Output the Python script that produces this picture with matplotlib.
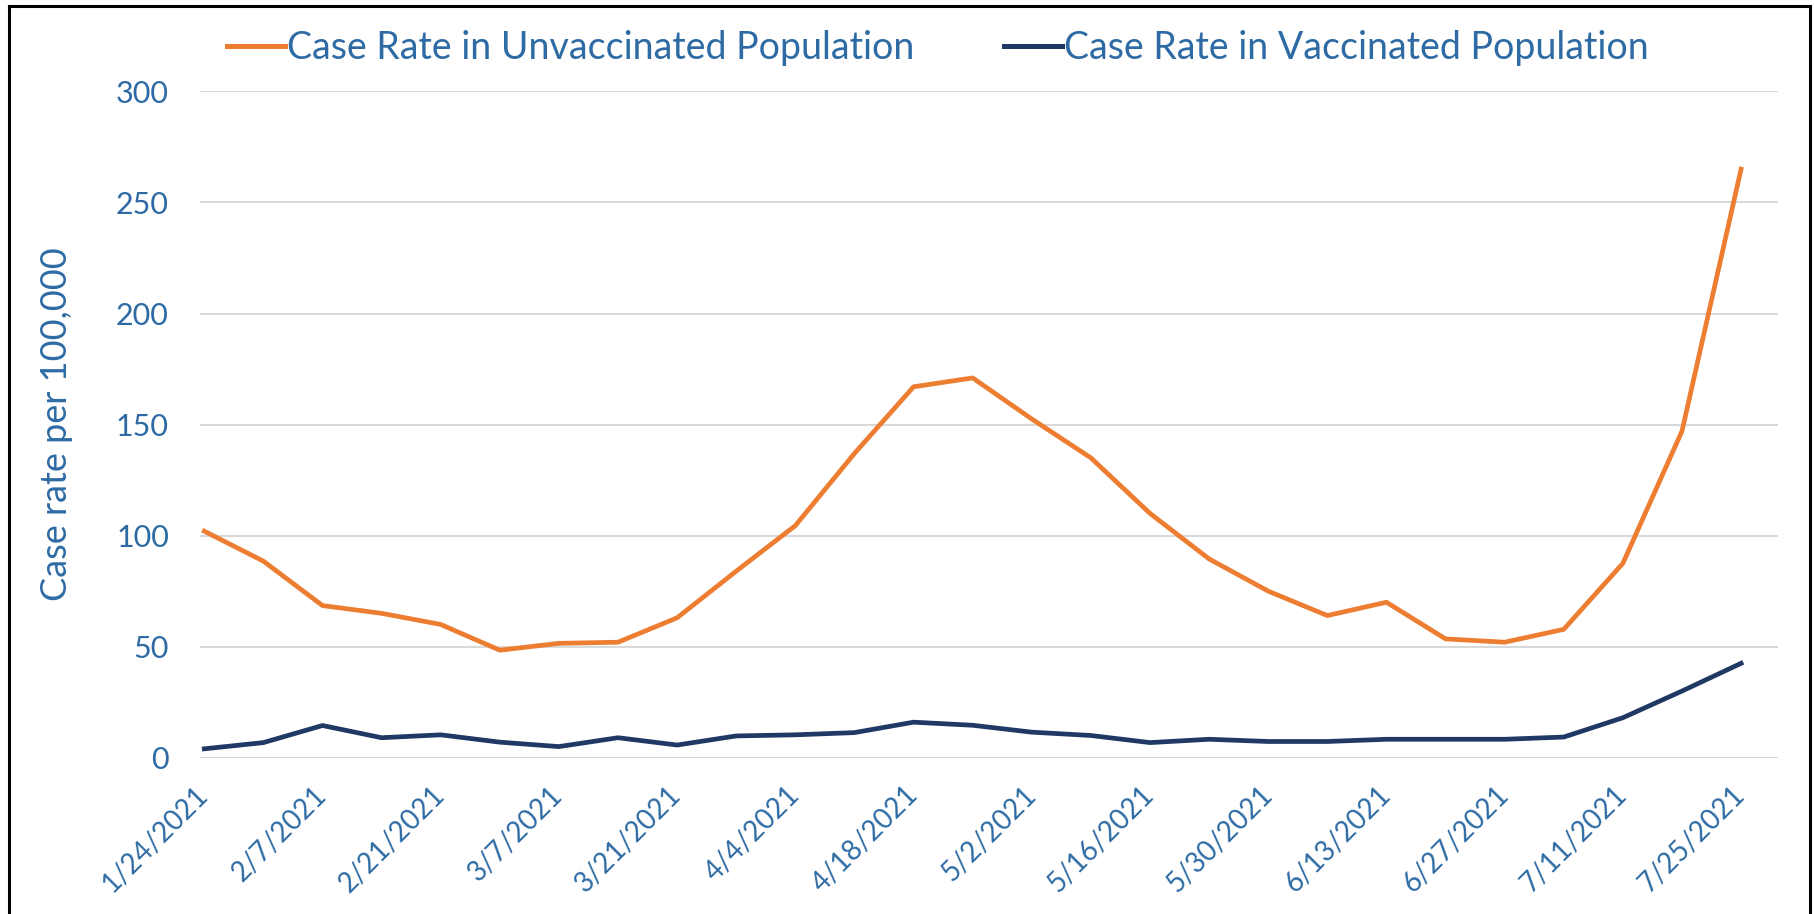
import matplotlib
matplotlib.use("Agg")
import matplotlib.pyplot as plt
from matplotlib.lines import Line2D
import numpy as np

dates = ["1/24/2021", "1/31/2021", "2/7/2021", "2/14/2021", "2/21/2021", "2/28/2021",
         "3/7/2021", "3/14/2021", "3/21/2021", "3/28/2021", "4/4/2021", "4/11/2021",
         "4/18/2021", "4/25/2021", "5/2/2021", "5/9/2021", "5/16/2021", "5/23/2021",
         "5/30/2021", "6/6/2021", "6/13/2021", "6/20/2021", "6/27/2021", "7/4/2021",
         "7/11/2021", "7/18/2021", "7/25/2021"]
unvaccinated = [102, 88.5, 68.5, 65, 60, 48.4, 51.5, 52, 63, 84, 104.5, 137, 167, 171,
                152.5, 135, 110, 89.5, 75, 64, 70, 53.5, 52, 57.8, 87.5, 147, 265]
vaccinated = [4, 6.8, 14.5, 9, 10.3, 7, 5, 9, 5.7, 9.8, 10.3, 11.3, 16, 14.6, 11.5, 10,
              6.8, 8.3, 7.3, 7.3, 8.3, 8.3, 8.3, 9.3, 18, 30, 42.5]
yticks = [0, 50, 100, 150, 200, 250, 300]

ORANGE = "#ED7D31"
NAVY = "#203864"
TXT = "#2E6BA4"
GRID = "#D9D9D9"
FONT = "Lato"

fig = plt.figure(figsize=(18.14, 9.14), dpi=100)
ax = fig.add_axes([0.110, 0.171, 0.870, 0.729])

x = np.arange(len(dates))
ax.plot(x, unvaccinated, color=ORANGE, lw=3.4, label="Case Rate in Unvaccinated Population",
        solid_joinstyle="round", zorder=3)
ax.plot(x, vaccinated, color=NAVY, lw=3.4, label="Case Rate in Vaccinated Population",
        solid_joinstyle="round", zorder=3)

ax.set_ylim(0, 300)
ax.set_xlim(-0.08, 26.62)
ax.set_yticks(yticks)
ax.set_yticklabels([str(v) for v in yticks], color=TXT, fontsize=22, family=FONT)
ax.set_xticks(x[::2])
ax.set_xticklabels(dates[::2], rotation=45, ha="right", va="center", rotation_mode="anchor",
                   color=TXT, fontsize=20, family=FONT)
ax.tick_params(axis="x", length=0, pad=24)
ax.tick_params(axis="y", length=0, pad=22)
ax.grid(axis="y", color=GRID, lw=1.5)
ax.set_axisbelow(True)
for s in ax.spines.values():
    s.set_visible(False)

ax.set_ylabel("Case rate per 100,000", color=TXT, fontsize=26, family=FONT)
ax.yaxis.set_label_coords(-0.080, 0.5)

leg = fig.legend(loc="center", bbox_to_anchor=(0.517, 0.947), ncol=2, frameon=False,
                 handlelength=1.55, handletextpad=0.05, columnspacing=2.4,
                 prop={"family": FONT, "size": 27})
for t in leg.get_texts():
    t.set_color(TXT)
for h in leg.legend_handles:
    h.set_linewidth(3.6)

W, H = 1814, 914
def fx(px):
    return px / W
def fy(py):
    return 1 - py / H
fig.add_artist(Line2D([fx(9), fx(9)], [fy(6), fy(914)], color="black", lw=2.2))
fig.add_artist(Line2D([fx(9), fx(1810)], [fy(6), fy(6)], color="black", lw=2.2))
fig.add_artist(Line2D([fx(1810), fx(1810)], [fy(6), fy(914)], color="black", lw=2.2))

fig.savefig("out.png", dpi=100)
